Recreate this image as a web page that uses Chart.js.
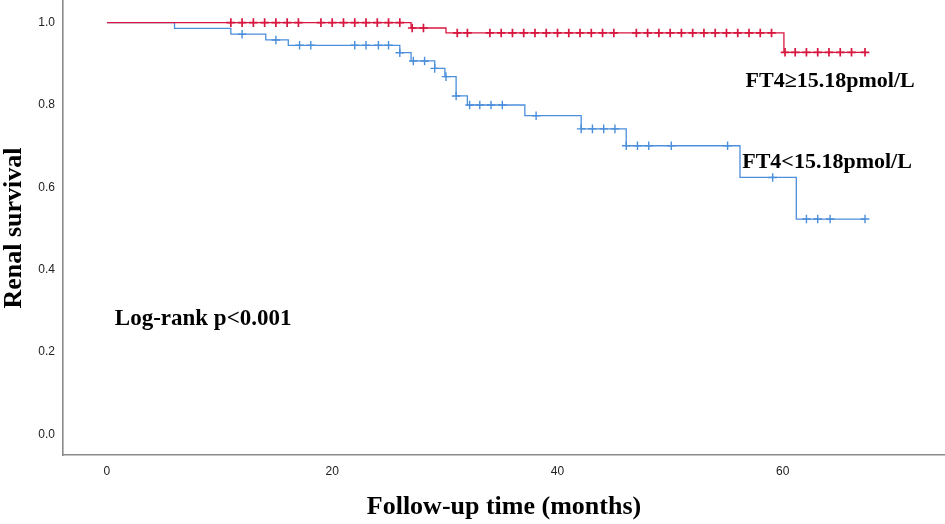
<!DOCTYPE html>
<html>
<head>
<meta charset="utf-8">
<script src="https://cdn.jsdelivr.net/npm/chart.js@4"></script>
<style>
  html, body { margin: 0; padding: 0; background: #fff; }
  #wrap { width: 945px; height: 524px; }
</style>
</head>
<body>
<div id="wrap"><canvas id="km"></canvas></div>
<script>
/*---------------------------------
   DATA
 ----------------------------------*/
// FT4 >= 15.18 pmol/L : event times (months) and survival after each step
var highTimes = [0, 27.0, 30.1, 60.1, 67.3];
var highSurv  = [1.0, 0.987, 0.975, 0.928, 0.928];
var highCensor = [11, 12, 13, 14, 15, 16, 17, 19, 20, 21, 22, 23, 24, 25, 26,
                  27.1, 28.1, 31.1, 32.0,
                  34, 35, 36, 37, 38, 39, 40, 41, 42, 43, 44, 45,
                  47, 48, 49, 50, 51, 52, 53, 54, 55, 56, 57, 58, 59,
                  60.2, 61.1, 62.1, 63.1, 64.1, 65.1, 66.1, 67.3];

// FT4 < 15.18 pmol/L
var lowTimes = [0, 6.0, 11.0, 14.1, 16.1, 26.0, 27.0, 29.1, 30.0, 31.0, 32.0, 37.1, 42.1, 46.1, 56.2, 61.2, 67.3];
var lowSurv  = [1.0, 0.986, 0.972, 0.958, 0.945, 0.927, 0.907, 0.889, 0.869, 0.822, 0.800, 0.774, 0.742, 0.701, 0.624, 0.523, 0.523];
var lowCensor = [12, 15, 17.1, 18.1, 22, 23, 24.1, 25, 26.0, 27.2, 28.2, 29.1, 30.1, 31.0,
                 32.2, 33.1, 34.1, 35.1, 38.1, 42.1, 43.1, 44.1, 45.1, 46.1, 47.1, 48.1, 50.1,
                 55.1, 59.1, 62.1, 63.1, 64.2, 67.3];

var xTicks = [0, 20, 40, 60];
var yTicks = [0.0, 0.2, 0.4, 0.6, 0.8, 1.0];

var RED = '#d7173f';
var BLUE = '#4b8fdb';

/*---------------------------------
   HELPERS
 ----------------------------------*/
function toPoints(xs, ys) {
    return xs.map(function(x, i) { return { x: x, y: ys[i] }; });
}

// survival level of a step curve at time t (last step at or before t)
function levelAt(times, surv, t) {
    var s = surv[0];
    for (var i = 0; i < times.length; i++) {
        if (times[i] <= t + 1e-9) s = surv[i];
    }
    return s;
}

function censorPoints(times, surv, cens) {
    return cens.map(function(t) { return { x: t, y: levelAt(times, surv, t) }; });
}

/*---------------------------------
   TEXT PLUGIN
 ----------------------------------*/
var SERIF = '"Liberation Serif", "DejaVu Serif", serif';

var textPlugin = {
    id: 'kmText',
    afterDraw: function(chart) {
        var ctx = chart.ctx;
        var xs = chart.scales.x, ys = chart.scales.y;
        ctx.save();
        ctx.fillStyle = '#000';
        ctx.textBaseline = 'middle';

        ctx.font = 'bold 22px ' + SERIF;
        ctx.textAlign = 'left';
        ctx.fillText('FT4\u226515.18pmol/L', xs.getPixelForValue(56.7), ys.getPixelForValue(0.857));
        ctx.fillText('FT4<15.18pmol/L', xs.getPixelForValue(56.4), ys.getPixelForValue(0.662));

        ctx.font = 'bold 23px ' + SERIF;
        ctx.fillText('Log-rank p<0.001', xs.getPixelForValue(0.7), ys.getPixelForValue(0.279));

        // axis titles
        ctx.font = 'bold 26px ' + SERIF;
        ctx.textAlign = 'center';
        ctx.fillText('Follow-up time (months)', 504, 507);

        ctx.translate(14, 228);
        ctx.rotate(-Math.PI / 2);
        ctx.fillText('Renal survival', 0, 0);
        ctx.restore();
    }
};

/*---------------------------------
   CHART
 ----------------------------------*/
var config = {
    type: 'scatter',
    data: {
        datasets: [{
            label: 'FT4\u226515.18pmol/L',
            data: toPoints(highTimes, highSurv),
            showLine: true,
            stepped: 'before',
            borderColor: RED,
            borderWidth: 1.3,
            pointRadius: 0,
            fill: false
        }, {
            label: 'FT4<15.18pmol/L',
            data: toPoints(lowTimes, lowSurv),
            showLine: true,
            stepped: 'before',
            borderColor: BLUE,
            borderWidth: 1.3,
            pointRadius: 0,
            fill: false
        }, {
            label: 'censored high',
            data: censorPoints(highTimes, highSurv, highCensor),
            pointStyle: 'cross',
            pointRadius: 4.3,
            borderColor: RED,
            borderWidth: 1.7
        }, {
            label: 'censored low',
            data: censorPoints(lowTimes, lowSurv, lowCensor),
            pointStyle: 'cross',
            pointRadius: 4.3,
            borderColor: BLUE,
            borderWidth: 1.4
        }]
    },
    options: {
        responsive: true,
        maintainAspectRatio: false,
        animation: false,
        layout: { padding: 0, autoPadding: false },
        plugins: {
            legend: { display: false },
            tooltip: { enabled: false }
        },
        scales: {
            x: {
                type: 'linear',
                min: -3.9,
                max: 74.4,
                afterBuildTicks: function(axis) {
                    axis.ticks = xTicks.map(function(v) { return { value: v }; });
                },
                afterFit: function(axis) {
                    axis.height = 69;
                    axis.paddingLeft = 0;
                    axis.paddingRight = 0;
                },
                grid: { display: false, drawTicks: false },
                border: { display: true, color: '#8a8a8a', width: 1.6 },
                ticks: {
                    padding: 9,
                    color: '#222',
                    font: { family: '"Liberation Sans Narrow", "Liberation Sans", Arial, sans-serif', size: 12 }
                }
            },
            y: {
                type: 'linear',
                min: -0.05,
                max: 1.055,
                afterBuildTicks: function(axis) {
                    axis.ticks = yTicks.map(function(v) { return { value: v }; });
                },
                afterFit: function(axis) {
                    axis.width = 63;
                    axis.paddingTop = 0;
                    axis.paddingBottom = 0;
                },
                grid: { display: false, drawTicks: false },
                border: { display: true, color: '#8a8a8a', width: 1.6 },
                ticks: {
                    padding: 8,
                    color: '#222',
                    font: { family: '"Liberation Sans Narrow", "Liberation Sans", Arial, sans-serif', size: 12 },
                    callback: function(v) { return Number(v).toFixed(1); }
                }
            }
        }
    },
    plugins: [textPlugin]
};

window.onload = function() {
    var ctx = document.getElementById('km').getContext('2d');
    window.kmChart = new Chart(ctx, config);
};
</script>
</body>
</html>
